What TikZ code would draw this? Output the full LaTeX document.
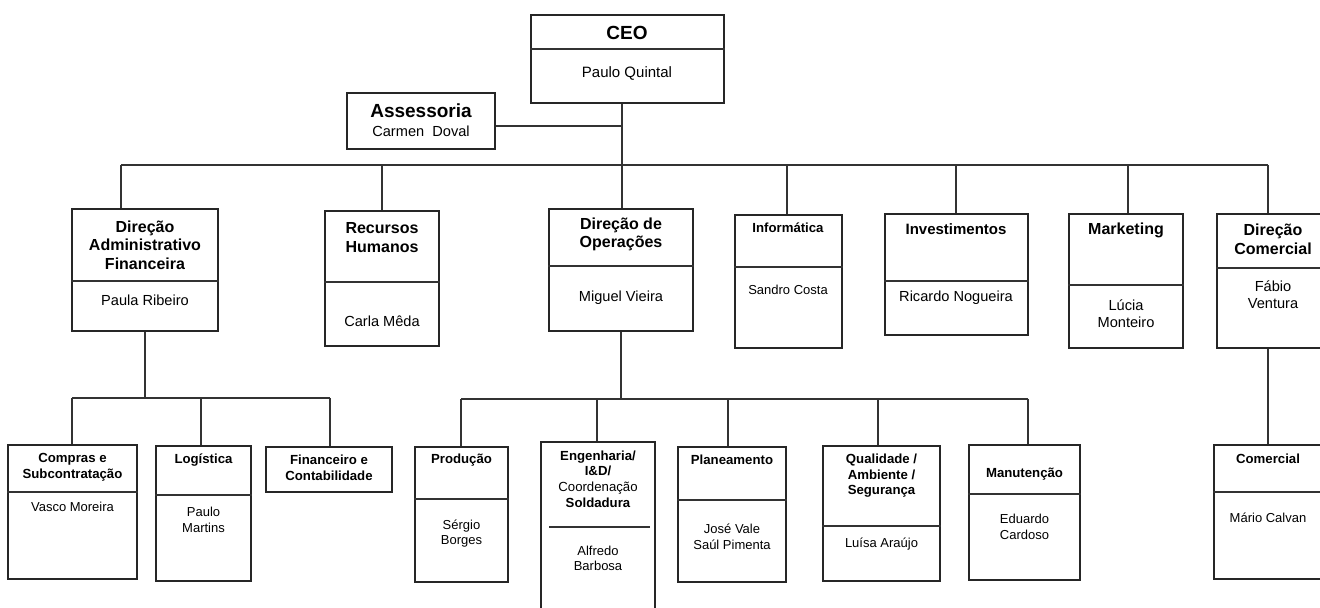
\documentclass[tikz,border=0pt]{standalone}
\usepackage{fontspec}
\setmainfont{Liberation Sans}
\usetikzlibrary{positioning,fit,calc}

\begin{document}
\begin{tikzpicture}[
      x=0.5pt, y=-0.5pt,
      unit/.style={draw=black!85, line width=0.6pt, inner sep=0pt},
      link/.style={draw=black!80, line width=0.6pt},
      topname/.style={font=\bfseries\fontsize{9.5}{11}\selectfont},
      head/.style={font=\bfseries\fontsize{8}{9.3}\selectfont, align=center},
      subhead/.style={font=\bfseries\fontsize{6.6}{7.8}\selectfont, align=center},
      who/.style={font=\fontsize{7.3}{8.5}\selectfont, align=center},
      subwho/.style={font=\fontsize{6.5}{7.8}\selectfont, align=center}
    ]
    \useasboundingbox (0,0) rectangle (1320,608);

    % top
    \node[unit, fit={(531,15) (724,103)}] (ceo) {};
    \draw[link] (ceo.west |- 0,49) -- (ceo.east |- 0,49);
    \node[topname] (ceoT) at (627,33) {CEO};
    \node[who, font=\fontsize{7.5}{9}\selectfont] (ceoN) at (627,73) {Paulo Quintal};

    \node[unit, fit={(347,93) (495,149)}] (ass) {};
    \node[topname] (assT) at (421,111) {Assessoria};
    \node[who] (assN) at (421,131) {Carmen~ Doval};

    % directions
    \node[unit, fit={(72,209) (218,331)}] (daf) {};
    \draw[link] (daf.west |- 0,281) -- (daf.east |- 0,281);
    \node[head] (dafT) at (145,245) {Direção\\Administrativo\\Financeira};
    \node[who] (dafN) at (145,300) {Paula Ribeiro};

    \node[unit, fit={(325,211) (439,346)}] (rh) {};
    \draw[link] (rh.west |- 0,282) -- (rh.east |- 0,282);
    \node[head] (rhT) at (382,237.5) {Recursos\\Humanos};
    \node[who] (rhN) at (382,321) {Carla Mêda};

    \node[unit, fit={(549,209) (693,331)}] (dop) {};
    \draw[link] (dop.west |- 0,266) -- (dop.east |- 0,266);
    \node[head] (dopT) at (621,234.5) {Direção de\\Operações};
    \node[who] (dopN) at (621,298) {Miguel Vieira};

    \node[unit, fit={(735,215) (842,348)}] (inf) {};
    \draw[link] (inf.west |- 0,267) -- (inf.east |- 0,267);
    \node[subhead] (infT) at (788,228) {Informática};
    \node[subwho] (infN) at (788,290) {Sandro Costa};

    \node[unit, fit={(885,214) (1028,335)}] (inv) {};
    \draw[link] (inv.west |- 0,281) -- (inv.east |- 0,281);
    \node[head, font=\bfseries\fontsize{7.5}{9}\selectfont] (invT) at (956,229) {Investimentos};
    \node[who] (invN) at (956,298) {Ricardo Nogueira};

    \node[unit, fit={(1069,214) (1183,348)}] (mkt) {};
    \draw[link] (mkt.west |- 0,285) -- (mkt.east |- 0,285);
    \node[head] (mktT) at (1126,230) {Marketing};
    \node[who] (mktN) at (1126,313.5) {Lúcia\\Monteiro};

    \node[unit, fit={(1217,214) (1329,348)}] (dcom) {};
    \draw[link] (dcom.west |- 0,268) -- (dcom.east |- 0,268);
    \node[head] (dcomT) at (1273,239.5) {Direção\\Comercial};
    \node[who] (dcomN) at (1273,294.5) {Fábio\\Ventura};

    % under administrativo financeira
    \node[unit, fit={(8,445) (137,579)}] (comp) {};
    \draw[link] (comp.west |- 0,492) -- (comp.east |- 0,492);
    \node[subhead] (compT) at (72.5,467) {Compras e\\Subcontratação};
    \node[subwho] (compN) at (72.5,507) {Vasco Moreira};

    \node[unit, fit={(156,446) (251,581)}] (log) {};
    \draw[link] (log.west |- 0,495) -- (log.east |- 0,495);
    \node[subhead] (logT) at (203.5,460) {Logística};
    \node[subwho] (logN) at (203.5,520) {Paulo\\Martins};

    \node[unit, fit={(266,447) (392,492)}] (fin) {};
    \node[subhead] (finT) at (329,467.5) {Financeiro e\\Contabilidade};

    % under operacoes
    \node[unit, fit={(415,447) (508,582)}] (prod) {};
    \draw[link] (prod.west |- 0,499) -- (prod.east |- 0,499);
    \node[subhead] (prodT) at (461.5,460) {Produção};
    \node[subwho] (prodN) at (461.5,533.5) {Sérgio\\Borges};

    \node[unit, fit={(541,442) (655,614)}] (eng) {};
    \draw[link] (549,527) -- (650,527);
    \node[subhead] (engT) at (598,479) {Engenharia/\\I\&D/\\{\mdseries Coordenação}\\Soldadura};
    \node[subwho] (engN) at (598,558.5) {Alfredo\\Barbosa};

    \node[unit, fit={(678,447) (786,582)}] (plan) {};
    \draw[link] (plan.west |- 0,500) -- (plan.east |- 0,500);
    \node[subhead] (planT) at (732,460) {Planeamento};
    \node[subwho] (planN) at (732,536.5) {José Vale\\Saúl Pimenta};

    \node[unit, fit={(823,446) (940,581)}] (qual) {};
    \draw[link] (qual.west |- 0,526) -- (qual.east |- 0,526);
    \node[subhead] (qualT) at (881.5,476) {Qualidade /\\Ambiente /\\Segurança};
    \node[subwho] (qualN) at (881.5,544) {Luísa Araújo};

    \node[unit, fit={(969,445) (1080,580)}] (man) {};
    \draw[link] (man.west |- 0,494) -- (man.east |- 0,494);
    \node[subhead] (manT) at (1024.5,474) {Manutenção};
    \node[subwho] (manN) at (1024.5,527) {Eduardo\\Cardoso};

    % under comercial
    \node[unit, fit={(1214,445) (1325,579)}] (com) {};
    \draw[link] (com.west |- 0,492) -- (com.east |- 0,492);
    \node[subhead] (comT) at (1268,459) {Comercial};
    \node[subwho] (comN) at (1268,518) {Mário Calvan};

    % the lines
    \coordinate (b0) at (622,165);
    \coordinate (bL) at (121,165);
    \coordinate (bR) at (1268,165);
    \draw[link] (ceo.south -| b0) -- (b0);
    \draw[link] (ass.east |- 0,126) -- (b0 |- 0,126);
    \draw[link] (bL) -- (bR);
    \draw[link] (bL) -- (daf.north -| bL);
    \draw[link] (rh.north |- bL) -- (rh.north);
    \draw[link] (b0) -- (dop.north -| b0);
    \draw[link] (787,165) -- (inf.north -| 787,0);
    \draw[link] (956,165) -- (inv.north -| 956,0);
    \draw[link] (1128,165) -- (mkt.north -| 1128,0);
    \draw[link] (bR) -- (dcom.north -| bR);

    \coordinate (cL) at (72,398);
    \coordinate (cR) at (330,398);
    \draw[link] (daf.south) -- (daf.south |- cL);
    \draw[link] (cL) -- (cR);
    \draw[link] (cL) -- (comp.north -| cL);
    \draw[link] (201,398) -- (log.north -| 201,0);
    \draw[link] (cR) -- (fin.north -| cR);

    \coordinate (dL) at (461,399);
    \coordinate (dR) at (1028,399);
    \draw[link] (dop.south) -- (dop.south |- dL);
    \draw[link] (dL) -- (dR);
    \draw[link] (dL) -- (prod.north -| dL);
    \draw[link] (597,399) -- (eng.north -| 597,0);
    \draw[link] (728,399) -- (plan.north -| 728,0);
    \draw[link] (878,399) -- (qual.north -| 878,0);
    \draw[link] (dR) -- (man.north -| dR);

    \draw[link] (dcom.south -| bR) -- (com.north -| bR);
\end{tikzpicture}
\end{document}
